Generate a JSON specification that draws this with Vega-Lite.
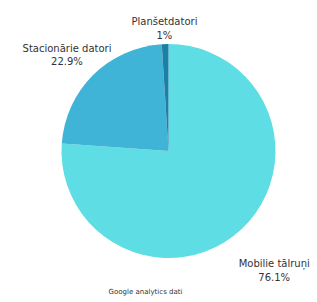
{
  "$schema": "https://vega.github.io/schema/vega-lite/v6.json",
  "width": 297,
  "height": 302,
  "autosize": "none",
  "padding": {"left": 20, "top": 0, "right": 0, "bottom": 0},
  "background": "white",
  "title": {"text": "Google analytics dati", "orient": "bottom", "offset": -14, "fontSize": 7, "font": "DejaVu Sans", "fontWeight": "normal", "color": "#333", "dx": -23},
  "data": {"values": [
    {"category": "Mobilie tālruņi", "value": 76.1, "ord": 1},
    {"category": "Stacionārie datori", "value": 22.9, "ord": 2},
    {"category": "Planšetdatori", "value": 1, "ord": 3}
  ]},
  "transform": [{"calculate": "[datum.category, datum.value + '%']", "as": "label"}],
  "encoding": {
    "theta": {"field": "value", "type": "quantitative", "stack": true},
    "order": {"field": "ord", "type": "quantitative"},
    "color": {"field": "category", "type": "nominal", "legend": null,
      "scale": {"domain": ["Mobilie tālruņi", "Stacionārie datori", "Planšetdatori"], "range": ["#5fdde5", "#3fb4d6", "#1b7fa6"]}}
  },
  "layer": [
    {"mark": {"type": "arc", "outerRadius": 107}},
    {"mark": {"type": "text", "radius": 155, "font": "DejaVu Sans", "fontSize": 10, "lineHeight": 14, "color": "#333"},
     "encoding": {"text": {"field": "label"}, "color": {"value": "#333"},
       "opacity": {"condition": {"test": "datum.ord == 1", "value": 1}, "value": 0}}},
    {"mark": {"type": "text", "radius": 144, "font": "DejaVu Sans", "fontSize": 10, "lineHeight": 13, "color": "#333"},
     "encoding": {"text": {"field": "label"}, "color": {"value": "#333"},
       "opacity": {"condition": {"test": "datum.ord == 2", "value": 1}, "value": 0}}},
    {"mark": {"type": "text", "radius": 129, "font": "DejaVu Sans", "fontSize": 10, "lineHeight": 14, "color": "#333"},
     "encoding": {"text": {"field": "label"}, "color": {"value": "#333"},
       "opacity": {"condition": {"test": "datum.ord == 3", "value": 1}, "value": 0}}}
  ],
  "config": {"view": {"stroke": null}}
}
